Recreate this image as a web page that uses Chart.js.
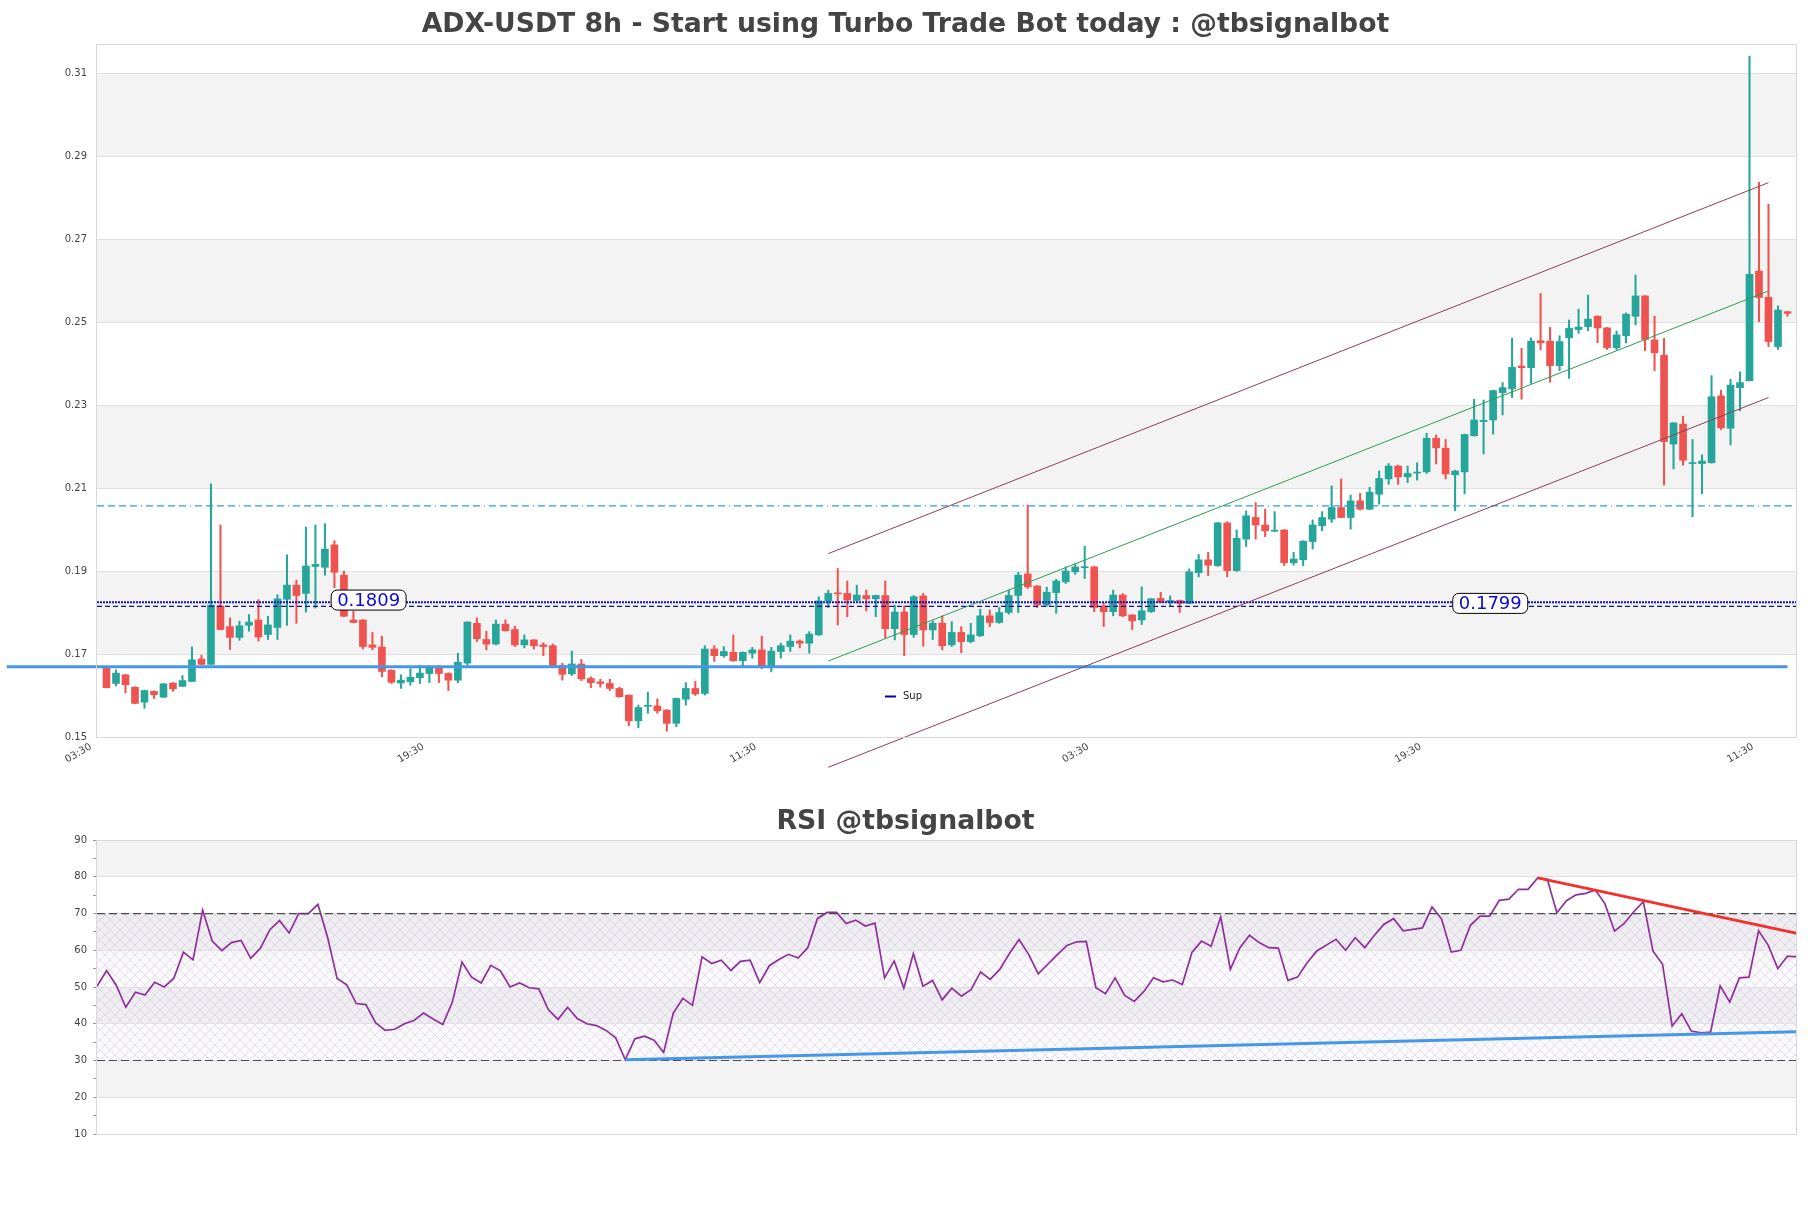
<!DOCTYPE html>
<html><head><meta charset="utf-8"><title>ADX-USDT 8h</title>
<script src="https://cdn.jsdelivr.net/npm/chart.js@4.4.0/dist/chart.umd.min.js"></script>
<style>
html,body{margin:0;padding:0;background:#fff;overflow:hidden}
#wrap{position:relative;width:1811px;height:1208px;background:#fff}
#c1{position:absolute;left:0;top:0;width:1811px;height:800px}
#c2{position:absolute;left:0;top:800px;width:1811px;height:408px}
</style></head>
<body><div id="wrap"><canvas id="c1" width="1811" height="800"></canvas><canvas id="c2" width="1811" height="408"></canvas></div>
<script>
// ---------- DATA ----------
const opens = [0.1669,0.1629,0.1650,0.1620,0.1584,0.1610,0.1596,0.1630,0.1622,0.1634,
0.1688,0.1675,0.1816,0.1766,0.1740,0.1769,0.1782,0.1747,0.1764,0.1832,
0.1866,0.1846,0.1911,0.1909,0.1963,0.1890,0.1782,0.1782,0.1722,0.1717,
0.1661,0.1630,0.1633,0.1643,0.1653,0.1667,0.1653,0.1637,0.1678,0.1774,
0.1735,0.1724,0.1772,0.1759,0.1722,0.1734,0.1722,0.1720,0.1673,0.1652,
0.1676,0.1641,0.1633,0.1629,0.1617,0.1601,0.1539,0.1574,0.1575,0.1565,
0.1533,0.1591,0.1617,0.1605,0.1712,0.1696,0.1704,0.1684,0.1702,0.1710,
0.1669,0.1706,0.1718,0.1731,0.1726,0.1746,0.1828,0.1847,0.1846,0.1829,
0.1841,0.1833,0.1841,0.1761,0.1801,0.1747,0.1840,0.1758,0.1774,0.1722,
0.1752,0.1730,0.1744,0.1792,0.1776,0.1800,0.1841,0.1893,0.1864,0.1818,
0.1848,0.1874,0.1898,0.1908,0.1910,0.1814,0.1802,0.1842,0.1794,0.1782,
0.1802,0.1834,0.1825,0.1829,0.1822,0.1896,0.1927,0.1913,0.2016,0.1901,
0.1977,0.2029,0.2011,0.1996,0.1999,0.1920,0.1927,0.1971,0.2009,0.2025,
0.2053,0.2029,0.2069,0.2049,0.2085,0.2122,0.2153,0.2127,0.2136,0.2139,
0.2220,0.2196,0.2132,0.2139,0.2226,0.2260,0.2264,0.2330,0.2339,0.2394,
0.2390,0.2455,0.2454,0.2395,0.2462,0.2482,0.2489,0.2514,0.2486,0.2438,
0.2467,0.2514,0.2563,0.2457,0.2420,0.2206,0.2254,0.2159,0.2159,0.2161,
0.2322,0.2244,0.2342,0.2359,0.2623,0.2560,0.2441,0.2525];
const highs = [0.1670,0.1662,0.1651,0.1621,0.1613,0.1611,0.1629,0.1631,0.1648,0.1717,
0.1697,0.2110,0.2011,0.1787,0.1779,0.1795,0.1831,0.1791,0.1843,0.1939,
0.1878,0.2006,0.2011,0.2014,0.1973,0.1900,0.1803,0.1783,0.1752,0.1743,
0.1662,0.1650,0.1665,0.1673,0.1672,0.1672,0.1655,0.1702,0.1778,0.1787,
0.1755,0.1782,0.1782,0.1767,0.1746,0.1735,0.1727,0.1724,0.1678,0.1707,
0.1687,0.1645,0.1639,0.1639,0.1620,0.1601,0.1577,0.1608,0.1592,0.1566,
0.1594,0.1631,0.1634,0.1720,0.1720,0.1718,0.1746,0.1705,0.1716,0.1743,
0.1716,0.1726,0.1746,0.1734,0.1754,0.1838,0.1854,0.1906,0.1876,0.1866,
0.1854,0.1842,0.1876,0.1818,0.1816,0.1841,0.1846,0.1780,0.1792,0.1778,
0.1766,0.1774,0.1808,0.1806,0.1812,0.1854,0.1897,0.2059,0.1865,0.1861,
0.1880,0.1910,0.1917,0.1960,0.1911,0.1822,0.1854,0.1846,0.1795,0.1862,
0.1834,0.1849,0.1840,0.1830,0.1905,0.1940,0.1945,0.2017,0.2019,0.1999,
0.2045,0.2065,0.2049,0.2043,0.2000,0.1945,0.1973,0.2023,0.2043,0.2105,
0.2122,0.2083,0.2087,0.2102,0.2141,0.2159,0.2155,0.2153,0.2161,0.2232,
0.2228,0.2217,0.2143,0.2230,0.2314,0.2312,0.2336,0.2354,0.2461,0.2437,
0.2462,0.2569,0.2487,0.2467,0.2505,0.2531,0.2565,0.2515,0.2487,0.2478,
0.2522,0.2613,0.2564,0.2514,0.2461,0.2258,0.2273,0.2217,0.2180,0.2371,
0.2336,0.2362,0.2380,0.3141,0.2837,0.2784,0.2539,0.2526];
const lows = [0.1618,0.1623,0.1606,0.1580,0.1569,0.1593,0.1595,0.1610,0.1621,0.1633,
0.1674,0.1675,0.1758,0.1711,0.1733,0.1755,0.1731,0.1735,0.1735,0.1769,
0.1774,0.1801,0.1811,0.1890,0.1860,0.1790,0.1775,0.1712,0.1710,0.1645,
0.1629,0.1617,0.1625,0.1629,0.1631,0.1631,0.1612,0.1631,0.1673,0.1730,
0.1710,0.1722,0.1755,0.1718,0.1715,0.1712,0.1696,0.1669,0.1637,0.1648,
0.1636,0.1619,0.1620,0.1612,0.1596,0.1527,0.1522,0.1557,0.1557,0.1514,
0.1525,0.1577,0.1600,0.1601,0.1682,0.1692,0.1682,0.1671,0.1690,0.1665,
0.1657,0.1690,0.1706,0.1715,0.1702,0.1745,0.1812,0.1770,0.1790,0.1828,
0.1804,0.1790,0.1739,0.1734,0.1696,0.1740,0.1719,0.1735,0.1710,0.1718,
0.1703,0.1727,0.1742,0.1766,0.1774,0.1796,0.1800,0.1858,0.1812,0.1815,
0.1798,0.1870,0.1892,0.1882,0.1802,0.1766,0.1792,0.1790,0.1759,0.1771,
0.1800,0.1824,0.1816,0.1800,0.1821,0.1886,0.1889,0.1911,0.1886,0.1899,
0.1959,0.1977,0.1983,0.1995,0.1913,0.1914,0.1913,0.1953,0.1997,0.2017,
0.2028,0.2001,0.2047,0.2048,0.2061,0.2109,0.2109,0.2113,0.2119,0.2135,
0.2158,0.2122,0.2045,0.2086,0.2225,0.2182,0.2230,0.2276,0.2318,0.2314,
0.2352,0.2433,0.2355,0.2383,0.2364,0.2473,0.2479,0.2450,0.2434,0.2433,
0.2450,0.2493,0.2431,0.2383,0.2107,0.2146,0.2155,0.2031,0.2086,0.2160,
0.2241,0.2204,0.2286,0.2358,0.2501,0.2441,0.2434,0.2514];
const closes = [0.1619,0.1654,0.1626,0.1581,0.1612,0.1602,0.1628,0.1616,0.1636,0.1686,
0.1675,0.1818,0.1759,0.1740,0.1768,0.1777,0.1741,0.1770,0.1833,0.1866,
0.1841,0.1912,0.1916,0.1953,0.1897,0.1791,0.1776,0.1718,0.1716,0.1658,
0.1632,0.1637,0.1644,0.1654,0.1667,0.1653,0.1637,0.1680,0.1777,0.1737,
0.1724,0.1772,0.1756,0.1722,0.1734,0.1720,0.1718,0.1672,0.1651,0.1676,
0.1640,0.1631,0.1629,0.1617,0.1597,0.1539,0.1571,0.1576,0.1563,0.1533,
0.1593,0.1617,0.1604,0.1712,0.1696,0.1706,0.1684,0.1704,0.1710,0.1669,
0.1707,0.1720,0.1731,0.1726,0.1748,0.1828,0.1846,0.1845,0.1830,0.1842,
0.1833,0.1841,0.1761,0.1801,0.1747,0.1838,0.1758,0.1774,0.1720,0.1752,
0.1730,0.1746,0.1792,0.1776,0.1800,0.1841,0.1890,0.1862,0.1818,0.1849,
0.1876,0.1900,0.1910,0.1910,0.1812,0.1802,0.1842,0.1792,0.1780,0.1804,
0.1833,0.1825,0.1829,0.1822,0.1898,0.1927,0.1914,0.2016,0.1901,0.1979,
0.2033,0.2011,0.1997,0.1998,0.1920,0.1929,0.1972,0.2011,0.2029,0.2053,
0.2029,0.2069,0.2049,0.2090,0.2123,0.2153,0.2127,0.2135,0.2138,0.2220,
0.2197,0.2134,0.2141,0.2229,0.2264,0.2263,0.2335,0.2342,0.2391,0.2390,
0.2454,0.2450,0.2395,0.2453,0.2485,0.2488,0.2507,0.2486,0.2438,0.2469,
0.2519,0.2563,0.2458,0.2426,0.2212,0.2257,0.2167,0.2161,0.2165,0.2320,
0.2245,0.2348,0.2354,0.2615,0.2559,0.2453,0.2529,0.2521];
const rsi = [50.2,54.5,50.5,44.5,48.6,47.8,51.3,50.0,52.4,59.5,
57.4,70.9,62.5,59.9,62.1,62.7,57.8,60.5,65.6,68.1,
64.7,70.0,70.0,72.5,63.6,52.3,50.6,45.5,45.2,40.3,
38.2,38.5,40.0,40.9,42.9,41.3,39.8,45.9,56.8,52.7,
51.1,55.9,54.4,50.0,51.1,49.8,49.5,43.8,41.2,44.5,
41.4,40.0,39.5,38.2,36.2,30.2,35.9,36.6,35.5,32.2,
42.9,46.9,45.0,58.2,56.4,57.3,54.5,57.0,57.3,51.2,
55.8,57.5,58.9,57.9,60.7,68.6,70.3,70.3,67.3,68.2,
66.6,67.4,52.5,57.1,49.7,59.1,50.2,51.8,46.5,49.7,
47.5,49.3,54.1,52.1,54.8,59.1,62.9,58.9,53.6,56.2,
58.8,61.3,62.3,62.4,49.8,48.2,52.5,47.7,46.1,48.8,
52.5,51.4,51.9,50.7,59.4,62.5,61.1,69.1,54.8,60.7,
64.1,62.1,60.7,60.6,51.8,52.7,56.6,59.8,61.4,63.0,
60.0,63.4,60.7,64.1,67.1,68.6,65.3,65.7,66.1,71.8,
68.5,59.5,60.0,66.8,69.3,69.3,73.6,73.9,76.6,76.6,
79.7,79.3,70.2,73.5,75.1,75.5,76.4,72.7,65.2,67.3,
70.5,73.2,59.8,56.2,39.4,42.7,38.0,37.5,37.7,50.3,
45.9,52.5,52.7,65.3,61.4,55.0,58.4,58.2];

const xTickPos = [-1, 34, 69, 104, 139, 174];
const xTickLabels = ['03:30', '19:30', '11:30', '03:30', '19:30', '11:30'];
const yTicks = [0.15, 0.17, 0.19, 0.21, 0.23, 0.25, 0.27, 0.29, 0.31];
const rsiTicks = [10,15,20,25,30,35,40,45,50,55,60,65,70,75,80,85,90];
const rsiBandTicks = [10,20,30,40,50,60,70,80,90];

const supportLevel = 0.1669;           // thick blue support
const supportFrom = -10.5, supportTo = 177;
const resistLevel = 0.2057;            // dash-dot light blue
const dottedLevel = 0.1825;            // dotted blue
const supLevel = 0.1815;               // dashed navy ("Sup")
const channelX = [76, 175];
const channelUpper = [0.1942, 0.2836];
const channelMid = [0.1683, 0.2575];
const channelLower = [0.1427, 0.2318];
const annX = [27.6, 145.7];
const annY = [0.1830, 0.1822];
const annText = ['0.1809', '0.1799'];
const rsiUpX = [55, 177], rsiUpY = [30.2, 37.8];
const rsiDownX = [150, 177], rsiDownY = [79.7, 64.6];
const rsiLevels = [70, 30];

// ---------- CHART ----------
Chart.defaults.font.family = "'DejaVu Sans', sans-serif";
Chart.defaults.color = '#444';
const idx = opens.map((_, i) => i);
const UP = '#26a69a', DOWN = '#ef5350';
const candleColors = idx.map(i => closes[i] >= opens[i] ? UP : DOWN);

function seg(xs, ys, color, width, dash, order) {
  return { type: 'line', data: xs.map((x, j) => ({ x: x, y: ys[j] })), borderColor: color,
    backgroundColor: color, borderWidth: width, borderDash: dash || [], pointRadius: 0,
    tension: 0, fill: false, clip: false, order: order };
}

const bandPlugin = {
  id: 'bands',
  beforeDraw(chart, args, o) {
    const { ctx, chartArea: a } = chart;
    const y = chart.scales.y;
    ctx.save();
    ctx.fillStyle = '#fff';
    ctx.fillRect(0, 0, chart.width, chart.height);
    const t = o.ticks;
    ctx.fillStyle = o.color;
    for (let k = 1; k + 1 < t.length; k += 2) {
      const y1 = y.getPixelForValue(t[k]), y2 = y.getPixelForValue(t[k + 1]);
      ctx.fillRect(a.left, y2, a.right - a.left, y1 - y2);
    }
    if (o.hatch) {
      const pc = document.createElement('canvas');
      pc.width = 10; pc.height = 10;
      const p = pc.getContext('2d');
      p.strokeStyle = 'rgba(190,160,210,0.45)';
      p.lineWidth = 0.7;
      p.beginPath(); p.moveTo(0, 0); p.lineTo(10, 10); p.moveTo(10, 0); p.lineTo(0, 10); p.stroke();
      const yt = y.getPixelForValue(o.hatch[1]), yb = y.getPixelForValue(o.hatch[0]);
      ctx.fillStyle = 'rgba(200,180,220,0.07)';
      ctx.fillRect(a.left, yt, a.right - a.left, yb - yt);
      ctx.fillStyle = ctx.createPattern(pc, 'repeat');
      ctx.fillRect(a.left, yt, a.right - a.left, yb - yt);
    }
    ctx.restore();
  },
  afterDraw(chart) {
    const { ctx, chartArea: a } = chart;
    ctx.save();
    ctx.strokeStyle = '#d8d8d8';
    ctx.lineWidth = 1;
    ctx.strokeRect(Math.round(a.left) - 0.5, Math.round(a.top) + 0.5, a.right - a.left, a.bottom - a.top);
    ctx.restore();
  }
};

const annPlugin = {
  id: 'ann',
  afterDatasetsDraw(chart) {
    const { ctx, chartArea: a } = chart;
    const xs = chart.scales.x, ys = chart.scales.y;
    ctx.save();
    ctx.font = "18px 'DejaVu Sans'";
    ctx.textAlign = 'center';
    ctx.textBaseline = 'middle';
    annText.forEach((txt, j) => {
      const cx = xs.getPixelForValue(annX[j]), cy = ys.getPixelForValue(annY[j]);
      const w = ctx.measureText(txt).width + 12, h = 20;
      ctx.beginPath();
      ctx.roundRect(cx - w / 2, cy - h / 2, w, h, 6);
      ctx.fillStyle = '#fff'; ctx.fill();
      ctx.strokeStyle = '#000'; ctx.lineWidth = 1; ctx.stroke();
      ctx.fillStyle = '#0a0ad2';
      ctx.fillText(txt, cx, cy + 1);
    });
    // legend "Sup"
    const lx = a.left + (a.right - a.left) * 0.4635, ly = a.bottom - 40.5;
    ctx.strokeStyle = '#0000aa'; ctx.lineWidth = 2;
    ctx.beginPath(); ctx.moveTo(lx, ly); ctx.lineTo(lx + 11, ly); ctx.stroke();
    ctx.font = "10px 'DejaVu Sans'";
    ctx.textAlign = 'left';
    ctx.fillStyle = '#222';
    ctx.fillText('Sup', lx + 18, ly);
    ctx.restore();
  }
};

new Chart(document.getElementById('c1'), {
  type: 'bar',
  data: {
    datasets: [
      { type: 'bar', data: idx.map(i => ({ x: i, y: [lows[i], highs[i]] })), backgroundColor: candleColors,
        barThickness: 1.4, grouped: false, order: 6 },
      { type: 'bar', data: idx.map(i => ({ x: i, y: [opens[i], closes[i]] })), backgroundColor: candleColors,
        barThickness: 7, grouped: false, minBarLength: 1, order: 5 },
      seg([-1, 178], [resistLevel, resistLevel], '#2a9fd8', 1.2, [7, 4, 7, 4, 7, 4, 7, 4, 1, 4], 4),
      seg([-1, 178], [dottedLevel, dottedLevel], '#1212cc', 2, [2, 1], 4),
      seg([-1, 178], [supLevel, supLevel], '#10108c', 1.3, [5, 3], 4),
      seg([supportFrom, supportTo], [supportLevel, supportLevel], '#4598e8', 3, [], 3),
      seg(channelX, channelUpper, '#8f4052', 1, [], 2),
      seg(channelX, channelMid, '#2e9e4f', 1, [], 2),
      seg(channelX, channelLower, '#8f4052', 1, [], 2)
    ]
  },
  options: {
    responsive: false, animation: false, devicePixelRatio: 1, events: [],
    layout: { padding: { left: 14, right: 14, top: 0, bottom: 0 } },
    plugins: {
      legend: { display: false }, tooltip: { enabled: false },
      title: { display: true, text: 'ADX-USDT 8h - Start using Turbo Trade Bot today : @tbsignalbot',
        color: '#444', font: { size: 26.7, weight: 'bold', lineHeight: 1.2 }, padding: { top: 9, bottom: 3 } },
      bands: { ticks: yTicks, color: '#f3f3f3' }
    },
    scales: {
      x: {
        type: 'linear', min: -1, max: 178, offset: false, stacked: false,
        grid: { display: false, drawTicks: false, offset: false }, border: { display: false },
        afterBuildTicks: s => { s.ticks = xTickPos.map(v => ({ value: v })); },
        ticks: { autoSkip: false, minRotation: 30, maxRotation: 30, padding: 4, labelOffset: -6, color: '#444',
          font: { size: 10 }, callback: (v, i) => xTickLabels[i] },
        afterFit: s => { s.height = 63; }
      },
      y: {
        type: 'linear', min: 0.15, max: 0.317, beginAtZero: false,
        afterBuildTicks: s => { s.ticks = yTicks.map(v => ({ value: v })); },
        ticks: { color: '#444', font: { size: 10 }, padding: 10, callback: v => v.toFixed(2) },
        grid: { color: '#e0e0e0', drawTicks: false }, border: { display: false },
        afterFit: s => { s.width = 83; }
      }
    }
  },
  plugins: [bandPlugin, annPlugin]
});

new Chart(document.getElementById('c2'), {
  type: 'line',
  data: {
    datasets: [
      { data: idx.map(i => ({ x: i, y: rsi[i] })), borderColor: '#8e2f9c', borderWidth: 1.7,
        pointRadius: 0, tension: 0, fill: false, order: 3 },
      seg([0, 177], [rsiLevels[0], rsiLevels[0]], '#4a4a4a', 1.2, [8, 4], 2),
      seg([0, 177], [rsiLevels[1], rsiLevels[1]], '#4a4a4a', 1.2, [8, 4], 2),
      seg(rsiUpX, rsiUpY, '#4598e8', 3, [], 1),
      seg(rsiDownX, rsiDownY, '#f2302c', 3, [], 1)
    ]
  },
  options: {
    responsive: false, animation: false, devicePixelRatio: 1, events: [],
    layout: { padding: { left: 14, right: 14, top: 0, bottom: 74 } },
    plugins: {
      legend: { display: false }, tooltip: { enabled: false },
      title: { display: true, text: 'RSI @tbsignalbot', color: '#444',
        font: { size: 26.7, weight: 'bold', lineHeight: 1.2 }, padding: { top: 6, bottom: 2 } },
      bands: { ticks: rsiBandTicks, color: '#f3f3f3', hatch: [30, 70] }
    },
    scales: {
      x: { type: 'linear', min: 0, max: 177, display: false },
      y: {
        type: 'linear', min: 10, max: 90,
        afterBuildTicks: s => { s.ticks = rsiTicks.map(v => ({ value: v })); },
        ticks: { color: '#444', font: { size: 10 }, padding: 6, callback: v => (v % 10 === 0 ? String(v) : '') },
        grid: { color: c => (c.tick && c.tick.value % 10 === 0 ? '#e0e0e0' : 'rgba(0,0,0,0)'),
          tickColor: '#999', tickLength: 4, drawTicks: true },
        border: { display: false },
        afterFit: s => { s.width = 83; }
      }
    }
  },
  plugins: [bandPlugin]
});
</script></body></html>
